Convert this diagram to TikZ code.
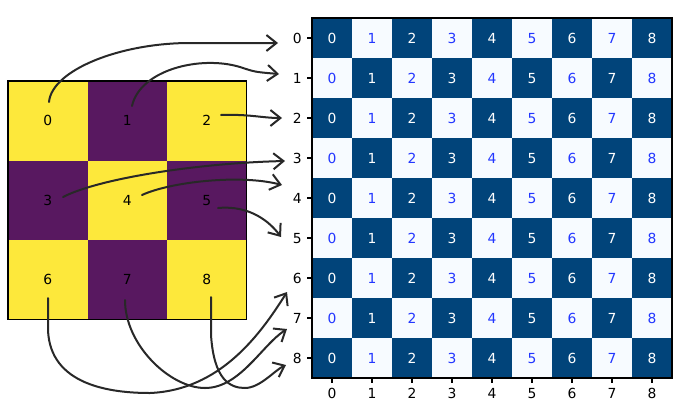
\documentclass[tikz,border=0pt]{standalone}
\usepackage{fontspec}
\setmainfont{DejaVu Sans}
\usetikzlibrary{arrows.meta}
\definecolor{vyel}{RGB}{253,232,59}
\definecolor{vpur}{RGB}{88,24,96}
\definecolor{bdark}{RGB}{1,68,122}
\definecolor{blight}{RGB}{247,251,255}
\definecolor{tblue}{RGB}{35,55,255}
\definecolor{arr}{RGB}{40,40,40}
\tikzset{
  lbl/.style={font=\fontsize{10.4}{12}\selectfont, inner sep=0pt, text height=7.6pt, text depth=0pt},
  hand/.style={draw=arr, line width=1.5pt, line cap=round, line join=round,
    -{Straight Barb[length=7.5pt,width=12pt]}},
  spine/.style={line width=0.8pt},
  tick/.style={line width=0.8pt}
}
\begin{document}
\begin{tikzpicture}[x=0.75pt,y=-0.75pt]
\useasboundingbox (0,0) rectangle (684,418);
% ---------- left 3x3 grid ----------
\foreach \r in {0,1,2} {
  \foreach \c in {0,1,2} {
    \pgfmathtruncatemacro\k{3*\r+\c}
    \pgfmathtruncatemacro\pp{mod(\r+\c,2)}
    \ifnum\pp=0 \def\cc{vyel}\else\def\cc{vpur}\fi
    \fill[\cc] ({8+79.5*\c},{81+79.5*\r}) rectangle ++(79.5,79.5);
    \node[lbl] (L\k) at ({47.75+79.5*\c},{120.75+79.5*\r}) {\k};
  }
}
\draw[spine] (8,81) rectangle (246.5,319.5);
% ---------- right 9x9 grid ----------
\foreach \r in {0,...,8} {
  \foreach \c in {0,...,8} {
    \pgfmathtruncatemacro\pp{mod(\r+\c,2)}
    \ifnum\pp=0 \def\cc{bdark}\def\tc{white}\else\def\cc{blight}\def\tc{tblue}\fi
    \fill[\cc] ({312+40*\c},{18+40*\r}) rectangle ++(40,40);
    \node[lbl, text=\tc] (R\r\c) at ({332+40*\c},{38+40*\r}) {\c};
  }
}
\draw[spine] (312,18) rectangle (672,378);
% ticks
\foreach \i in {0,...,8} {
  \draw[tick] (312,{38+40*\i}) -- ++(-4.9,0);
  \node[lbl, anchor=east] (Y\i) at (302,{38+40*\i}) {\i};
  \draw[tick] ({332+40*\i},378) -- ++(0,4.9);
  \node[lbl, anchor=north] (X\i) at ({332+40*\i},388) {\i};
}
% ---------- hand-drawn arrows ----------
\coordinate (s0) at (49,102);  \coordinate (e0) at (278,43);
\coordinate (s1) at (132,106); \coordinate (e1) at (279,74);
\coordinate (s2) at (221,115); \coordinate (e2) at (282,118);
\coordinate (s3) at (63,197);  \coordinate (e3) at (285,161);
\coordinate (s4) at (142,195); \coordinate (e4) at (282,185);
\coordinate (s5) at (218,208); \coordinate (e5) at (281,237);
\coordinate (s6) at (48,298);  \coordinate (e6) at (287,292);
\coordinate (s7) at (125,300); \coordinate (e7) at (287,329);
\coordinate (s8) at (211,297); \coordinate (e8) at (286,365);

\draw[hand] (s0) .. controls (52,70) and (120,43) .. (190,43) -- (e0);
\draw[hand] (s1) .. controls (140,70) and (200,55) .. (240,67) .. controls (255,72) .. (e1);
\draw[hand] (s2) .. controls (250,114) and (262,118) .. (e2);
\draw[hand] (s3) .. controls (100,178) and (200,163) .. (e3);
\draw[hand] (s4) .. controls (170,182) and (240,174) .. (e4);
\draw[hand] (s5) .. controls (250,205) and (270,222) .. (e5);
\draw[hand] (s6) -- (48,330) .. controls (50,385) and (110,393) .. (150,393) .. controls (220,390) and (260,335) .. (e6);
\draw[hand] (s7) .. controls (125,345) and (170,388) .. (205,388) .. controls (240,388) and (262,345) .. (e7);
\draw[hand] (s8) -- (211,335) .. controls (214,380) and (230,388) .. (245,388) .. controls (260,388) and (275,370) .. (e8);
\end{tikzpicture}
\end{document}
